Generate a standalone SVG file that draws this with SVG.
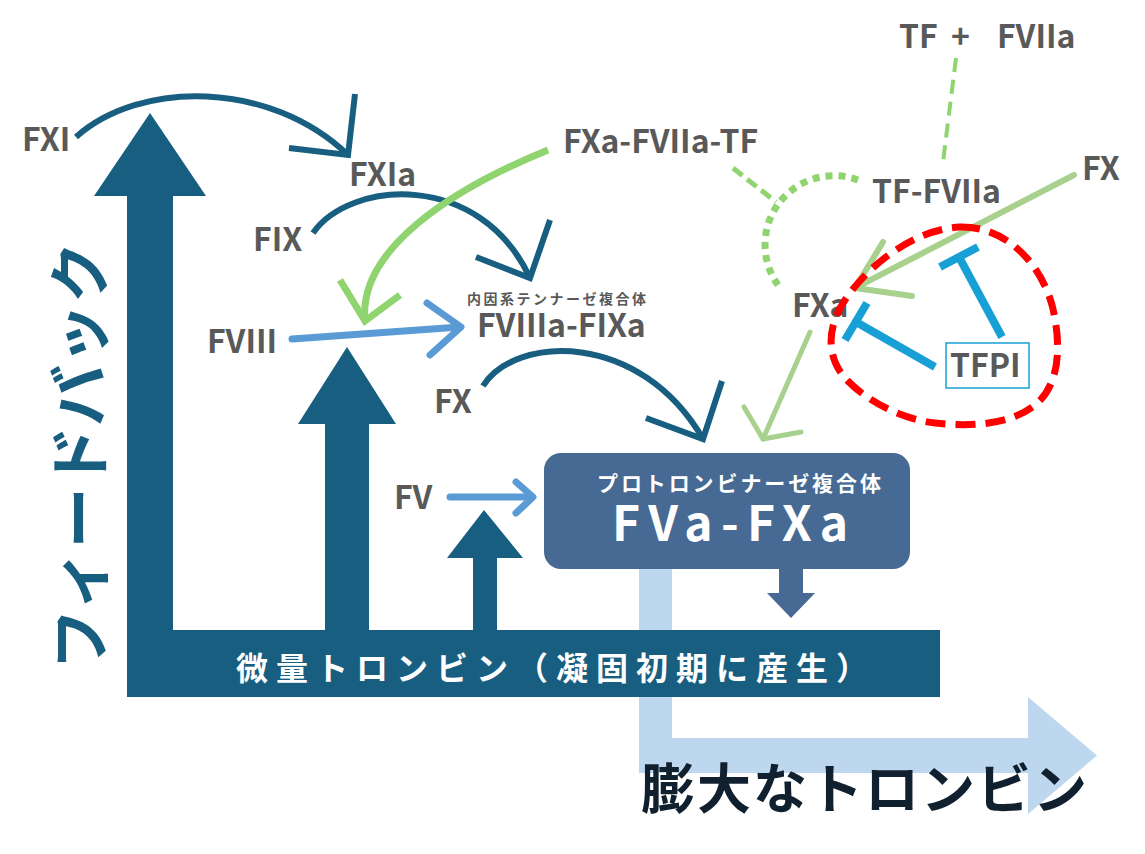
<svg xmlns="http://www.w3.org/2000/svg" width="1145" height="854" viewBox="0 0 1145 854">
<style>
text{font-family:'Noto Sans CJK JP','Noto Sans',sans-serif;font-weight:bold}
.lbl{font-size:32px;fill:#595959}
.dark{fill:#175E81}
.arc{fill:none;stroke:#175E81;stroke-width:6}
.g1{fill:none;stroke:#8FD46F;stroke-width:7}
.g2{fill:none;stroke:#A9D18E;stroke-width:6;stroke-linecap:round;stroke-linejoin:round}
.b1{fill:none;stroke:#5B9BD5;stroke-width:7;stroke-linecap:round;stroke-linejoin:round}
.inh{fill:none;stroke:#17A0D6;stroke-width:8}
</style>
<rect width="1145" height="854" fill="#ffffff"/>
<g id="big-thrombin-arrow">
<polygon points="639,565 672,565 672,738 1028,738 1028,697 1097,755.5 1028,814 1028,773 639,773" fill="#BDD7EE"/>
</g>
<g id="feedback-arrows">
<rect class="dark" x="127" y="630" width="813" height="67"/>
<rect class="dark" x="127" y="194" width="46" height="503"/>
<polygon class="dark" points="94,196 150,113 206,196"/>
<rect class="dark" x="325" y="422" width="44" height="210"/>
<polygon class="dark" points="298,424 347,347 396,424"/>
<rect class="dark" x="473" y="556" width="24" height="76"/>
<polygon class="dark" points="447,558 484,510 523,558"/>
</g>
<g id="bar-label"><text x="236" y="680" font-size="32" letter-spacing="8" fill="#ffffff">微量トロンビン（凝固初期に産生）</text></g>
<g id="feedback-label"><text transform="translate(103,670) rotate(-90)" font-size="62" textLength="428" lengthAdjust="spacingAndGlyphs" fill="#175E81">フィードバック</text></g>
<g id="prothrombinase">
<rect x="544" y="453" width="366" height="116" rx="17" fill="#466A93"/>
<polygon points="779,567 803,567 803,593 815,593 791,618 767,593 779,593" fill="#466A93"/>
<text x="597" y="491" font-size="21" letter-spacing="2.9" fill="#ffffff">プロトロンビナーゼ複合体</text>
<text x="612" y="541" font-size="48" textLength="236" lengthAdjust="spacing" fill="#ffffff">FVa-FXa</text>
</g>
<g id="large-thrombin"><text x="641" y="809" font-size="54" letter-spacing="2" fill="#10202F">膨大なトロンビン</text></g>
<g id="connectors">
<path class="arc" d="M76,137 C140,80 270,80 348,155"/>
<polyline class="arc" points="355,94 348,155 289,148"/>
<path class="arc" d="M313,233 C350,180 480,170 530,278"/>
<polyline class="arc" points="550,220 530,278 476,257"/>
<path class="arc" d="M483,386 C515,335 640,330 703,439"/>
<polyline class="arc" points="722,381 703,439 646,418"/>
<path class="g1" d="M548,150 C450,190 358,250 365,321"/>
<polyline class="g1" points="340,280 365,321 400,295"/>
<line class="b1" x1="292" y1="339" x2="460" y2="327"/>
<polyline class="b1" points="427,303 461,327 430,355"/>
<line class="b1" x1="450" y1="497" x2="532" y2="497"/>
<polyline class="b1" points="516,482 533,497 516,513"/>
<line x1="956" y1="58" x2="943" y2="162" stroke="#8FD46F" stroke-width="4" stroke-dasharray="14 8"/>
<line x1="733" y1="168" x2="776" y2="202" stroke="#8FD46F" stroke-width="5" stroke-dasharray="12 6"/>
<path d="M858,180 A69,69 0 0 0 778,285" fill="none" stroke="#8FD46F" stroke-width="7" stroke-dasharray="7 6"/>
<line class="g2" x1="1074" y1="175" x2="855" y2="288"/>
<polyline class="g2" points="883,242 855,288 912,296"/>
<line class="g2" x1="810" y1="332" x2="763" y2="439" style="stroke-width:5"/>
<polyline class="g2" points="744,407 763,439 801,432" style="stroke-width:5"/>
</g>
<g id="labels">
<text class="lbl" x="22" y="151">FXI</text>
<text class="lbl" x="349" y="186">FXIa</text>
<text class="lbl" x="253" y="251">FIX</text>
<text class="lbl" x="207" y="353">FVIII</text>
<text x="467" y="304" font-size="14" letter-spacing="2.5" fill="#595959">内因系テンナーゼ複合体</text>
<text class="lbl" x="477" y="337">FVIIIa-FIXa</text>
<text class="lbl" x="434" y="413">FX</text>
<text class="lbl" x="394" y="509">FV</text>
<text class="lbl" x="563" y="153">FXa-FVIIa-TF</text>
<text class="lbl" x="899" y="48">TF</text>
<text class="lbl" x="951" y="48">+</text>
<text class="lbl" x="997" y="48">FVIIa</text>
<text class="lbl" x="872" y="203">TF-FVIIa</text>
<text class="lbl" x="1082" y="180">FX</text>
<text class="lbl" x="792" y="317">FXa</text>
</g>
<g id="tfpi-loop">
<path d="M960,227 C1005,226 1040,262 1052,305 C1062,345 1060,385 1035,405 C1010,425 970,427 935,423 C900,419 865,400 845,378 C825,355 828,325 845,300 C868,265 915,229 960,227 Z" fill="none" stroke="#FF0000" stroke-width="7" stroke-dasharray="20 10"/>
</g>
<g id="tfpi">
<line class="inh" x1="935" y1="367" x2="856" y2="322"/>
<line class="inh" x1="845" y1="340" x2="867" y2="303"/>
<line class="inh" x1="1002" y1="337" x2="959" y2="257"/>
<line class="inh" x1="940" y1="267" x2="978" y2="247"/>
<rect x="946" y="343" width="83" height="45" fill="#ffffff" stroke="#17A0D6" stroke-width="1.5"/>
<text class="lbl" x="950" y="377">TFPI</text>
</g>
</svg>
